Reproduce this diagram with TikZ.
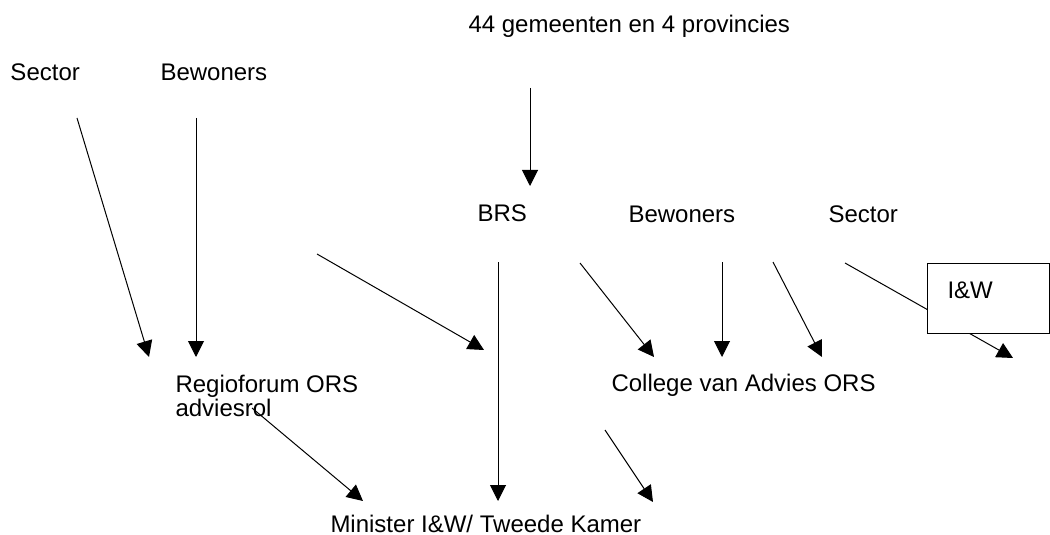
\documentclass[tikz,border=0pt]{standalone}
\usepackage{fontspec}
\setmainfont{Liberation Sans}
\usetikzlibrary{arrows.meta}

\begin{document}
\begin{tikzpicture}[x=0.5pt,y=-0.5pt,->,>={Triangle[length=8pt,width=8pt]},
 line width=0.5pt,
 txt node/.style={anchor=base west,inner sep=0pt,font=\fontsize{12}{13}\selectfont},
 box node/.style={draw,fill=white,anchor=north west,inner xsep=10pt,inner ysep=0pt,
   text width=41pt,text height=17.5pt,text depth=17.5pt,align=left,
   font=\fontsize{12}{13}\selectfont}]
\useasboundingbox (0,0) rectangle (1050,535);

% texts
\node[txt node](gem) at (468,33) {44 gemeenten en 4 provincies};
\node[txt node](secL) at (10,81) {Sector};
\node[txt node](bewL) at (160,81) {Bewoners};
\node[txt node](brs) at (477,221) {BRS};
\node[txt node](bewR) at (628,222) {Bewoners};
\node[txt node](secR) at (828,222) {Sector};
\node[txt node](regio) at (175,392) {Regioforum ORS};
\node[txt node](advies) at (175,416) {adviesrol};
\node[txt node](college) at (611,391) {College van Advies ORS};
\node[txt node](minister) at (330,532) {Minister I\&W/ Tweede Kamer};

% loose arrow ends
\coordinate (a1) at (77,118);  \coordinate (b1) at (149,357);
\coordinate (a2) at (196,118); \coordinate (b2) at (196,357);
\coordinate (a3) at (530,88);  \coordinate (b3) at (530,186);
\coordinate (a4) at (317,254); \coordinate (b4) at (484,350);
\coordinate (a5) at (498,262); \coordinate (b5) at (498,501);
\coordinate (a6) at (580,263); \coordinate (b6) at (654,357);
\coordinate (a7) at (722,262); \coordinate (b7) at (722,357);
\coordinate (a8) at (773,262); \coordinate (b8) at (822,357);
\coordinate (a9) at (845,263); \coordinate (b9) at (1013,358);
\coordinate (a10) at (252,408); \coordinate (b10) at (363,501);
\coordinate (a11) at (605,430); \coordinate (b11) at (653,502);

\foreach \s/\t in {a1/b1, a2/b2, a3/b3, a4/b4, a5/b5, a6/b6, a7/b7, a8/b8, a9/b9, a10/b10, a11/b11}{
    \draw (\s) -- (\t);}

\node[box node](iw) at (927,263) {I\&W};

\end{tikzpicture}
\end{document}
